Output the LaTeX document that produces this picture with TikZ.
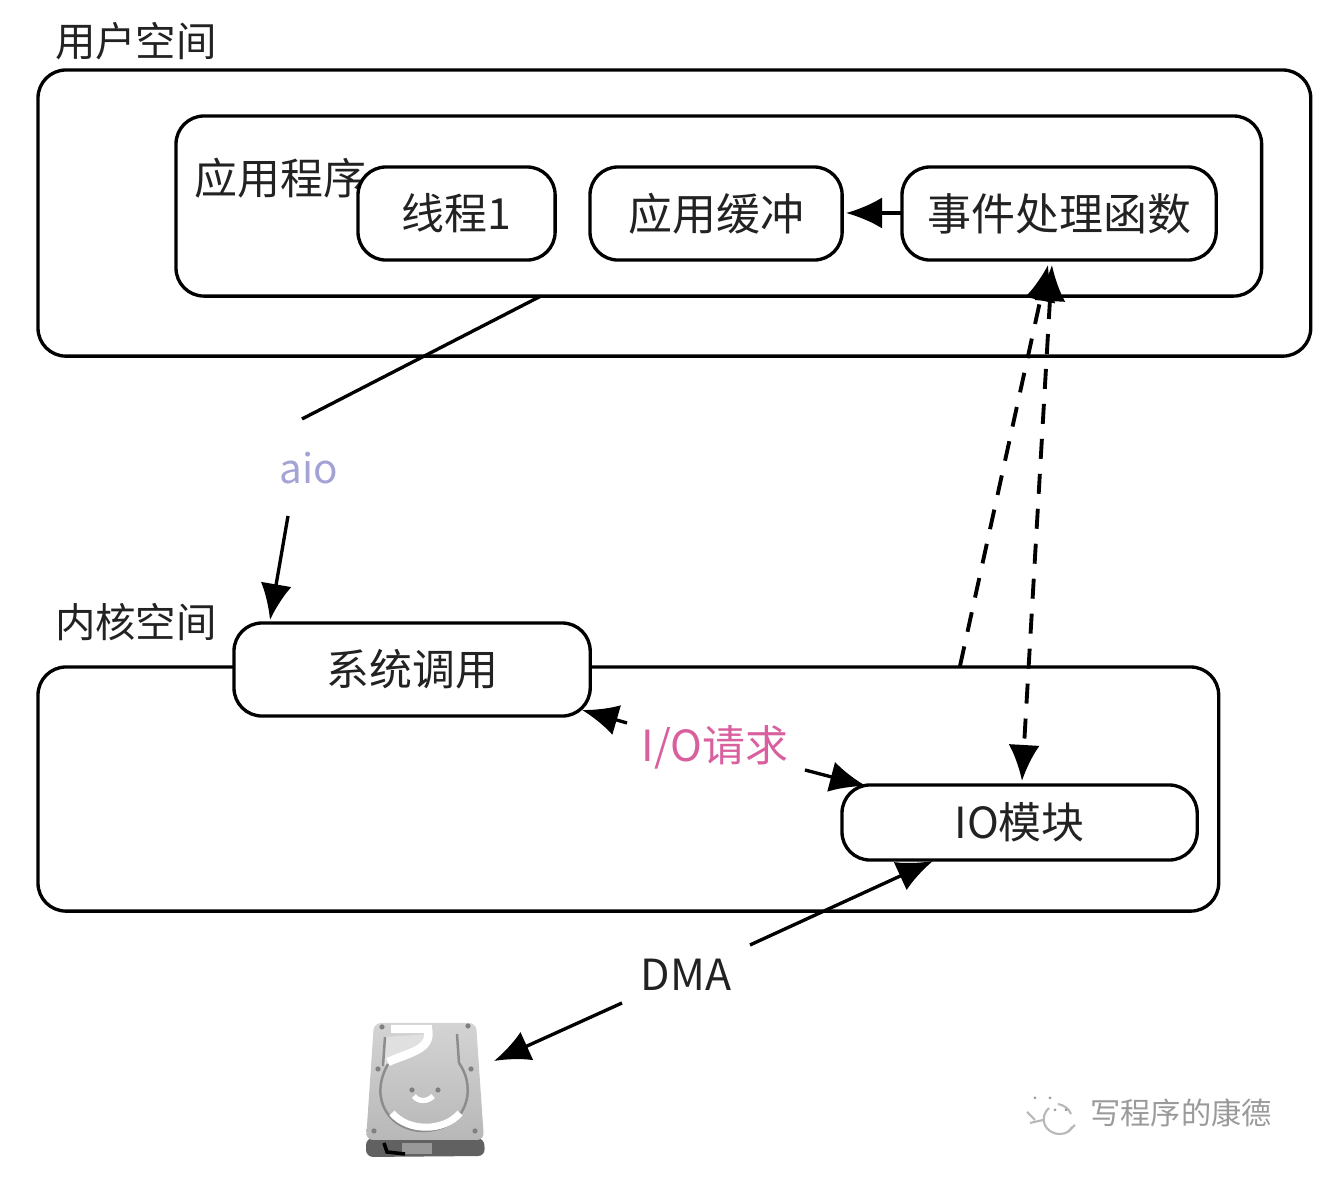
\documentclass[tikz,border=0pt]{standalone}
\usepackage{fontspec}
\setmainfont{Noto Sans CJK SC}
\usetikzlibrary{arrows.meta}
\definecolor{aiocolor}{HTML}{A3A3D6}
\definecolor{iocolor}{HTML}{D9609F}
\definecolor{markcolor}{HTML}{9A9A9A}
\definecolor{inkcolor}{HTML}{222222}
\tikzset{
  box/.style={draw,line width=.95pt,rounded corners=.28cm,inner sep=0pt,outer sep=0pt,anchor=north west},
  inner box/.style={box,fill=white,text=inkcolor,font=\fontsize{12.2pt}{14pt}\selectfont},
  wide text/.style={font=\fontsize{12.5pt}{14pt}\selectfont},
  textlabel/.style={inner sep=0pt,text=inkcolor,font=\fontsize{12.2pt}{14pt}\selectfont},
  spacelabel/.style={textlabel,font=\fontsize{11.5pt}{14pt}\selectfont},
  conn/.style={line width=.95pt},
  arrowline/.style={conn,-{Latex[length=.36cm,width=.31cm]}},
  dashline/.style={arrowline,line width=1.1pt,dash pattern=on .2cm off .15cm},
}
\begin{document}
\begin{tikzpicture}[x=.01cm,y=-.01cm]
\useasboundingbox (0,0) rectangle (1332,1186);
% user space
\node[box,minimum width=12.72cm,minimum height=2.86cm] (user) at (38,70) {};
\node[spacelabel] (userlabel) at (136,41) {用户空间};
\node[box,minimum width=10.85cm,minimum height=1.80cm] (app) at (176,116) {};
\node[textlabel,anchor=west] (applabel) at (194,178) {应用程序};
\node[inner box,minimum width=1.97cm,minimum height=.93cm] (thread) at (358,167) {线程1};
\node[inner box,wide text,minimum width=2.52cm,minimum height=.93cm] (buffer) at (590,167) {应用缓冲};
\node[inner box,wide text,minimum width=3.14cm,minimum height=.93cm] (handler) at (902,167) {事件处理函数};
% kernel space
\node[box,minimum width=11.80cm,minimum height=2.44cm] (kernel) at (38,667) {};
\node[spacelabel] (kernellabel) at (136,622) {内核空间};
\node[inner box,minimum width=3.56cm,minimum height=.93cm] (syscall) at (234,623) {系统调用};
\node[inner box,minimum width=3.55cm,minimum height=.75cm] (iomod) at (842,785) {IO模块};
% labels on the lines
\node[spacelabel,text=aiocolor] (aio) at (309,468) {aio};
\node[textlabel,text=iocolor] (ioreq) at (715,747) {I/O请求};
\node[textlabel] (dma) at (686,975) {DMA};
% free ends
\coordinate (appout) at (541,296);
\coordinate (aioin) at (302,419);
\coordinate (aioout) at (288,516);
\coordinate (syscallin) at (270,620);
\coordinate (handlerout) at (902,213);
\coordinate (bufferin) at (846,213);
\coordinate (kernelout) at (960,666);
\coordinate (handlerin) at (1048,265);
\coordinate (handlerin2) at (1052,265);
\coordinate (iomodin) at (1022,781);
\coordinate (reqleft) at (627,723);
\coordinate (syscallout) at (582,710);
\coordinate (reqright) at (805,770);
\coordinate (iomodleft) at (866,786);
\coordinate (dmaup) at (750,945);
\coordinate (iomodout) at (933,861);
\coordinate (dmadown) at (622,1003);
\coordinate (diskin) at (494,1061);
\draw[conn] (appout) -- (aioin);
\draw[arrowline] (aioout) -- (syscallin);
\draw[arrowline] (handlerout) -- (bufferin);
\draw[dashline] (kernelout) -- (handlerin);
\draw[dashline,{Latex[length=.36cm,width=.31cm]}-{Latex[length=.36cm,width=.31cm]}] (handlerin2) -- (iomodin);
\draw[arrowline] (reqleft) -- (syscallout);
\draw[arrowline] (reqright) -- (iomodleft);
\draw[arrowline] (dmaup) -- (iomodout);
\draw[arrowline] (dmadown) -- (diskin);
% disk
\fill[black!62,rounded corners=2pt] (366,1138) -- (484,1138) -- (485,1156) -- (366,1157) -- cycle;
\fill[black!40] (402,1143) rectangle (432,1154);
\draw[black,line width=1pt] (384,1143) -- (387,1152) -- (405,1154);
\shade[top color=black!17,bottom color=black!28,rounded corners=2pt] (374,1023) -- (476,1023) -- (484,1140) -- (366,1140) -- cycle;
\fill[black!12] (385,1037) -- (430,1034) .. controls (426,1052) and (412,1060) .. (384,1066) -- cycle;
\draw[black!45,line width=.7pt] (385,1037) -- (383,1066);
\draw[black!45,line width=.7pt] (457,1034) -- (459,1063);
\draw[white,line width=2.4pt] (391,1029) -- (428,1029) .. controls (432,1050) and (410,1052) .. (388,1062);
\draw[black!45,line width=.7pt] (459,1063) .. controls (478,1090) and (466,1130) .. (424,1131) .. controls (390,1131) and (368,1100) .. (388,1064);
\draw[white,line width=2pt] (392,1113) .. controls (408,1132) and (444,1132) .. (460,1113);
\draw[white,line width=1.5pt] (414,1096) .. controls (418,1102) and (428,1102) .. (433,1096);
\foreach \sx/\sy in {382/1027,468/1026,378/1069,471/1069,374/1131,475/1131,412/1090,438/1090}
  \fill[black!50] (\sx,\sy) circle [radius=2.6];
% watermark
\node[inner sep=0pt,text=markcolor,font=\fontsize{8.6pt}{10pt}\selectfont] (mark) at (1181,1113) {写程序的康德};
\draw[markcolor!70,line width=.6pt] (1049,1108) .. controls (1038,1118) and (1045,1134) .. (1060,1134) .. controls (1066,1134) and (1070,1131) .. (1072,1127);
\draw[markcolor!70,line width=.6pt] (1058,1104) .. controls (1064,1105) and (1069,1109) .. (1071,1114);
\draw[markcolor!70,line width=.6pt] (1027,1112) -- (1035,1120) (1030,1123) -- (1043,1120) (1068,1132) -- (1075,1125);
\foreach \sx/\sy in {1035/1098,1050/1098,1055/1110,1066/1110}
  \fill[markcolor] (\sx,\sy) circle [radius=1.5];
\end{tikzpicture}
\end{document}
